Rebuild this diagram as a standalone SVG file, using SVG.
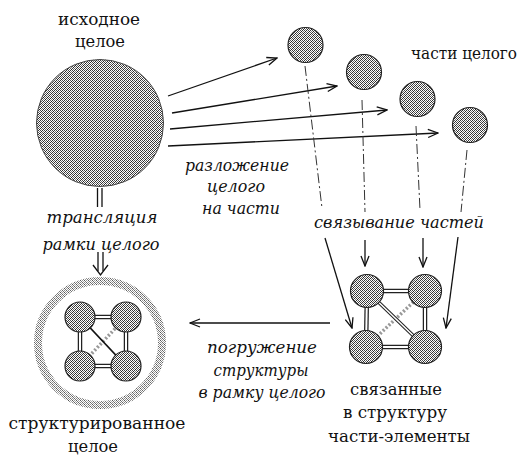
<svg xmlns="http://www.w3.org/2000/svg" width="527" height="456" viewBox="0 0 527 456">
<defs>
<pattern id="dots" width="4" height="4" patternUnits="userSpaceOnUse">
<rect width="4" height="4" fill="#fff"/>
<rect x="0" y="0" width="1" height="1" fill="#333"/>
<rect x="2" y="0" width="1" height="1" fill="#555"/>
<rect x="1" y="1" width="1" height="1" fill="#666"/>
<rect x="3" y="1" width="1" height="1" fill="#222"/>
<rect x="0" y="2" width="1" height="1" fill="#444"/>
<rect x="2" y="2" width="1" height="1" fill="#333"/>
<rect x="1" y="3" width="1" height="1" fill="#222"/>
<rect x="3" y="3" width="1" height="1" fill="#777"/>
</pattern>
<pattern id="ringdots" width="4" height="4" patternUnits="userSpaceOnUse">
<rect width="4" height="4" fill="#fff"/>
<rect x="0" y="0" width="1" height="1" fill="#555"/>
<rect x="2" y="0" width="1" height="1" fill="#999"/>
<rect x="1" y="1" width="1" height="1" fill="#777"/>
<rect x="3" y="1" width="1" height="1" fill="#aaa"/>
<rect x="0" y="2" width="1" height="1" fill="#888"/>
<rect x="2" y="2" width="1" height="1" fill="#666"/>
<rect x="1" y="3" width="1" height="1" fill="#999"/>
<rect x="3" y="3" width="1" height="1" fill="#777"/>
</pattern>
<marker id="arr" viewBox="0 0 12 10" refX="11" refY="5" markerWidth="12" markerHeight="10" markerUnits="userSpaceOnUse" orient="auto">
<path d="M1,1 L11,5 L1,9" fill="none" stroke="#111" stroke-width="1.3"/>
</marker>
</defs>
<style>
.t{font-family:"DejaVu Serif",serif;font-size:17.5px;fill:#111;text-anchor:middle}
.i{font-family:"DejaVu Serif",serif;font-size:17px;font-style:italic;fill:#111;text-anchor:middle}
.ball{fill:url(#dots);stroke:#222;stroke-width:1.2}
.big{fill:url(#dots);stroke:#444;stroke-width:1}
.ln{stroke:#111;stroke-width:1.3;fill:none}
.arw{stroke:#111;stroke-width:1.3;fill:none;marker-end:url(#arr)}
.dash{stroke:#333;stroke-width:1;fill:none;stroke-dasharray:10 3 2 3}
.dblo{stroke:#222;stroke-width:4.5;fill:none}
.dbli{stroke:#fff;stroke-width:2;fill:none}
.dotd{stroke:#999;stroke-width:3.5;fill:none;stroke-dasharray:2 2}
</style>

<g id="whole">
<circle class="big" cx="100" cy="123" r="63.5"/>
<text class="t" x="99" y="25" textLength="82" lengthAdjust="spacingAndGlyphs">исходное</text>
<text class="t" x="100" y="47" textLength="50" lengthAdjust="spacingAndGlyphs">целое</text>
</g>

<g id="parts">
<circle class="ball" cx="305.5" cy="45" r="17.5"/>
<circle class="ball" cx="364" cy="72" r="17.5"/>
<circle class="ball" cx="417.5" cy="99" r="17.5"/>
<circle class="ball" cx="470" cy="125" r="17.5"/>
<text class="t" x="464" y="59" style="font-size:16px" textLength="106" lengthAdjust="spacingAndGlyphs">части целого</text>
</g>

<g id="connectors">
<line class="arw" x1="168" y1="96" x2="277" y2="58"/>
<line class="arw" x1="172" y1="113" x2="337" y2="86"/>
<line class="arw" x1="170" y1="129" x2="387" y2="110"/>
<line class="arw" x1="168" y1="146" x2="438" y2="133"/>
<line class="dash" x1="305" y1="66" x2="322" y2="208"/>
<line class="dash" x1="362" y1="100" x2="365" y2="212"/>
<line class="dash" x1="416" y1="126" x2="420" y2="210"/>
<line class="dash" x1="467" y1="150" x2="461" y2="212"/>
<line class="arw" x1="325" y1="238" x2="352" y2="328"/>
<line class="arw" x1="365" y1="240" x2="365" y2="266"/>
<line class="arw" x1="423" y1="238" x2="423" y2="267"/>
<line class="arw" x1="458" y1="237" x2="446" y2="328"/>
<line class="arw" x1="330" y1="323" x2="190" y2="323"/>
<line class="ln" x1="97.5" y1="188" x2="97.5" y2="207"/>
<line class="ln" x1="102" y1="188" x2="102" y2="207"/>
<line class="ln" x1="98" y1="252" x2="98" y2="271"/>
<line class="ln" x1="103" y1="252" x2="103" y2="271"/>
<path class="ln" d="M93,265 L100.5,275 L108,265"/>
</g>

<g id="structure">
<line class="dblo" x1="367" y1="291" x2="425" y2="291"/><line class="dbli" x1="367" y1="291" x2="425" y2="291"/>
<line class="dblo" x1="366" y1="347" x2="425" y2="347"/><line class="dbli" x1="366" y1="347" x2="425" y2="347"/>
<line class="dblo" x1="367" y1="291" x2="366" y2="347"/><line class="dbli" x1="367" y1="291" x2="366" y2="347"/>
<line class="dblo" x1="425" y1="291" x2="425" y2="347"/><line class="dbli" x1="425" y1="291" x2="425" y2="347"/>
<line class="dotd" x1="425" y1="291" x2="366" y2="347"/>
<line class="dblo" x1="367" y1="291" x2="425" y2="347" style="stroke-width:3.5"/><line class="dbli" x1="367" y1="291" x2="425" y2="347" style="stroke-width:1.5"/>
<circle class="ball" cx="367" cy="291" r="16.5"/>
<circle class="ball" cx="425" cy="291" r="16.5"/>
<circle class="ball" cx="366" cy="347" r="16.5"/>
<circle class="ball" cx="425" cy="347" r="16.5"/>
<text class="t" x="396" y="395" textLength="92" lengthAdjust="spacingAndGlyphs">связанные</text>
<text class="t" x="395" y="418" textLength="104" lengthAdjust="spacingAndGlyphs">в структуру</text>
<text class="t" x="399" y="442" textLength="142" lengthAdjust="spacingAndGlyphs">части-элементы</text>
</g>

<g id="structured-whole">
<circle cx="100" cy="343" r="62" fill="none" stroke="url(#ringdots)" stroke-width="8"/>
<line class="dblo" x1="80" y1="317" x2="126" y2="317"/><line class="dbli" x1="80" y1="317" x2="126" y2="317"/>
<line class="dblo" x1="80" y1="366" x2="126" y2="366"/><line class="dbli" x1="80" y1="366" x2="126" y2="366"/>
<line class="dblo" x1="80" y1="317" x2="80" y2="366"/><line class="dbli" x1="80" y1="317" x2="80" y2="366"/>
<line class="dblo" x1="126" y1="317" x2="126" y2="366"/><line class="dbli" x1="126" y1="317" x2="126" y2="366"/>
<line class="dotd" x1="126" y1="317" x2="80" y2="366"/>
<line class="ln" x1="80" y1="317" x2="126" y2="366" style="stroke-width:1.8"/>
<circle class="ball" cx="80" cy="317" r="15"/>
<circle class="ball" cx="126" cy="317" r="15"/>
<circle class="ball" cx="80" cy="366" r="15"/>
<circle class="ball" cx="126" cy="366" r="15"/>
<text class="t" x="97" y="429" textLength="177" lengthAdjust="spacingAndGlyphs">структурированное</text>
<text class="t" x="93" y="452" textLength="50" lengthAdjust="spacingAndGlyphs">целое</text>
</g>

<g id="labels">
<text class="i" x="237" y="171" textLength="104" lengthAdjust="spacingAndGlyphs">разложение</text>
<text class="i" x="236" y="192" textLength="58" lengthAdjust="spacingAndGlyphs">целого</text>
<text class="i" x="241" y="214" textLength="78" lengthAdjust="spacingAndGlyphs">на части</text>
<text class="i" x="102" y="223" textLength="111" lengthAdjust="spacingAndGlyphs">трансляция</text>
<text class="i" x="101" y="250" textLength="117" lengthAdjust="spacingAndGlyphs">рамки целого</text>
<text class="i" x="399" y="228" textLength="170" lengthAdjust="spacingAndGlyphs">связывание частей</text>
<text class="i" x="262" y="353" textLength="110" lengthAdjust="spacingAndGlyphs">погружение</text>
<text class="i" x="261" y="376" textLength="95" lengthAdjust="spacingAndGlyphs">структуры</text>
<text class="i" x="262" y="398" textLength="127" lengthAdjust="spacingAndGlyphs">в рамку целого</text>
</g>
</svg>
